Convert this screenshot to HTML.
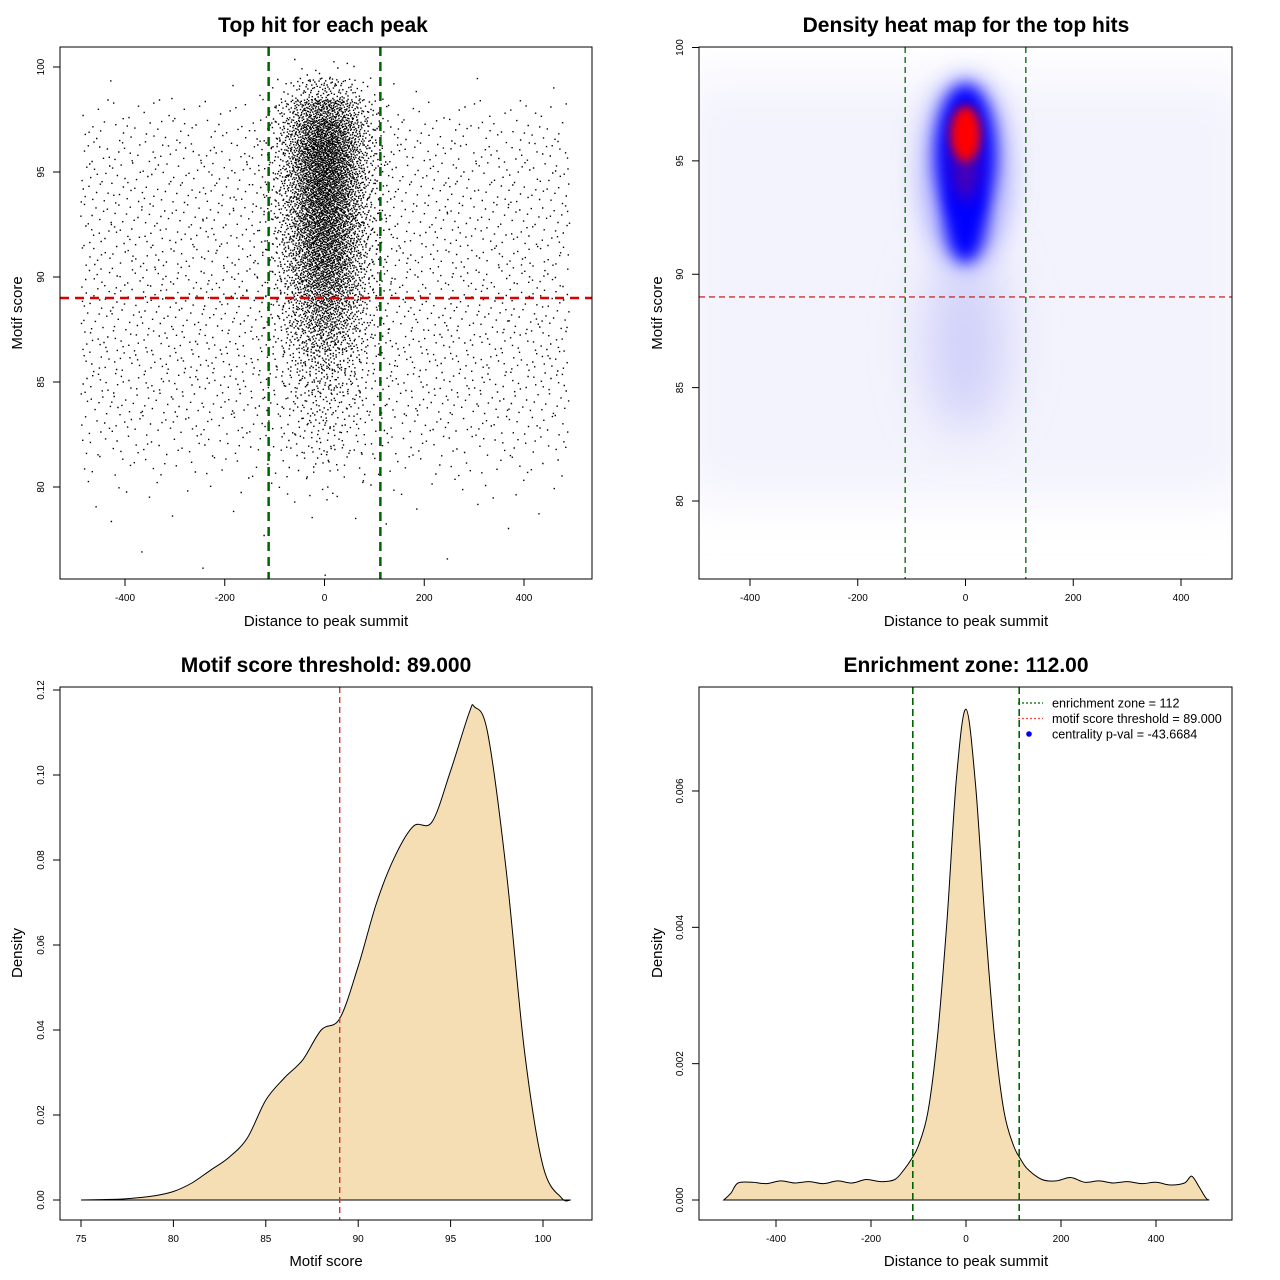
<!DOCTYPE html>
<html><head><meta charset="utf-8">
<style>
html,body{margin:0;padding:0;background:#fff;}
svg{display:block;font-family:"Liberation Sans",Arial,sans-serif;}
</style></head>
<body>
<svg id="chart" width="1280" height="1280" viewBox="0 0 1280 1280" xmlns="http://www.w3.org/2000/svg">
<defs>
<filter id="b14" x="-100%" y="-100%" width="300%" height="300%"><feGaussianBlur stdDeviation="14"/></filter>
<filter id="b8" x="-100%" y="-100%" width="300%" height="300%"><feGaussianBlur stdDeviation="8"/></filter>
<filter id="b5" x="-100%" y="-100%" width="300%" height="300%"><feGaussianBlur stdDeviation="5"/></filter>
<filter id="b25" x="-100%" y="-100%" width="300%" height="300%"><feGaussianBlur stdDeviation="25"/></filter>
<clipPath id="clip2"><rect x="699" y="47" width="533" height="532"/></clipPath>
</defs>
<g id="root"></g>
</svg>
<script>
// ---------- data ----------
// Panel 1: scatter counts per motif score bin (1-unit bins)
const scoreBins = [76,77,78,79,80,81,82,83,84,85,86,87,88,89,90,91,92,93,94,95,96,97,98,99,100];
const backgroundCounts = [2,2,4,8,25,55,90,120,140,155,160,160,155,150,150,148,145,142,140,135,125,100,55,8,0];
const centralCounts = [0,0,0,2,6,12,25,35,45,70,110,170,240,300,380,430,470,500,530,560,570,500,340,110,10];
// Panel 3: motif score density
const scoreX = [75,77,78,79,80,81,82,83,84,85,86,87,88,89,90,91,92,93,94,95,96,96.3,97,98,99,100,101,101.5];
const scoreDensity = [0,0.0002,0.0005,0.001,0.002,0.004,0.007,0.010,0.0146,0.0235,0.0287,0.033,0.040,0.0427,0.055,0.070,0.081,0.088,0.089,0.101,0.1146,0.116,0.110,0.078,0.035,0.008,0.0005,0];
// Panel 4: distance density
const distX = [-510,-495,-480,-450,-420,-390,-360,-330,-300,-270,-240,-210,-180,-150,-130,-115,-100,-80,-60,-40,-20,0,20,40,60,80,100,115,130,160,190,220,250,280,310,340,370,400,430,460,475,490,505,512];
const distDensity = [0,0.0001,0.00025,0.00026,0.00024,0.00028,0.00025,0.00027,0.00024,0.00028,0.00025,0.0003,0.00027,0.0003,0.00045,0.0006,0.0008,0.0013,0.0024,0.0041,0.0062,0.0072,0.0061,0.0041,0.0024,0.0013,0.0008,0.0006,0.00045,0.0003,0.00028,0.00033,0.00026,0.00028,0.00025,0.00027,0.00024,0.00026,0.00022,0.00025,0.00035,0.0002,0.00003,0];
// tick labels
const p1XTicks = [-400,-200,0,200,400];
const p1YTicks = [80,85,90,95,100];
const p3XTicks = [75,80,85,90,95,100];
const p3YTicks = ["0.00","0.02","0.04","0.06","0.08","0.10","0.12"];
const p4YTicks = ["0.000","0.002","0.004","0.006"];
const scoreThreshold = 89;
const enrichZone = 112;

// ---------- helpers ----------
const NS="http://www.w3.org/2000/svg";
const root=document.getElementById('root');
function el(tag,attrs,parent,text){const e=document.createElementNS(NS,tag);for(const k in attrs)e.setAttribute(k,attrs[k]);if(text!==undefined)e.textContent=text;(parent||root).appendChild(e);return e;}
function lin(d0,d1,r0,r1){return v=>r0+(v-d0)*(r1-r0)/(d1-d0);}

function frame(x0,y0,x1,y1,name){
  const r=el('rect',{x:x0,y:y0,width:x1-x0,height:y1-y0,fill:'none',stroke:'#000','stroke-width':1});
  
  
}
function xAxis(ticks,sx,yb,name,lbls){
  const g=el('g',{});
  
  
  el('line',{x1:sx(ticks[0]),x2:sx(ticks[ticks.length-1]),y1:yb,y2:yb,stroke:'#000'},g);
  ticks.forEach((t,i)=>{
    const x=sx(t);
    el('line',{x1:x,x2:x,y1:yb,y2:yb+7,stroke:'#000'},g);
    const tx=el('text',{x:x,y:yb+22,'font-size':10,'text-anchor':'middle'},g,lbls?lbls[i]:String(t));
    
    
  });
}
function yAxis(ticks,sy,xb,name,lbls){
  const g=el('g',{});
  
  
  el('line',{x1:xb,x2:xb,y1:sy(ticks[0]),y2:sy(ticks[ticks.length-1]),stroke:'#000'},g);
  ticks.forEach((t,i)=>{
    const y=sy(t);
    el('line',{x1:xb-7,x2:xb,y1:y,y2:y,stroke:'#000'},g);
    const tx=el('text',{x:xb-16,y:y,'font-size':10,'text-anchor':'middle',transform:`rotate(-90 ${xb-16} ${y})`},g,lbls?lbls[i]:String(t));
    
    
  });
}
function label(x,y,txt,size,bold,rot,name){
  const t=el('text',{x:x,y:y,'font-size':size,'text-anchor':'middle','font-weight':bold?'bold':'normal'},root,txt);
  if(rot)t.setAttribute('transform',`rotate(-90 ${x} ${y})`);
  
  
}
function halton(i,b){let f=1,r=0;while(i>0){f/=b;r+=f*(i%b);i=Math.floor(i/b);}return r;}
function invNorm(p){p=Math.min(Math.max(p,1e-4),1-1e-4);const t=Math.sqrt(-2*Math.log(p<0.5?p:1-p));let z=t-(2.515517+0.802853*t+0.010328*t*t)/(1+1.432788*t+0.189269*t*t+0.001308*t*t*t);return p<0.5?-z:z;}

// ---------- Panel 1 ----------
{
  const sx=lin(-400,400,125,524), sy=lin(80,100,487,67);
  label(323,32,'Top hit for each peak',21,true,false,'scatter-title');
  let d='',k=1;
  scoreBins.forEach((s,i)=>{
    for(let j=0;j<backgroundCounts[i];j++,k++){
      const x=-490+980*halton(k,2), y=s-0.5+halton(k,3);
      d+=`M${sx(x).toFixed(1)} ${sy(y).toFixed(1)}h1.4v1.4h-1.4z`;
    }
    for(let j=0;j<centralCounts[i];j++,k++){
      const x=45*invNorm(halton(k,2)), y=s-0.5+halton(k,3);
      if(Math.abs(x)>200)continue;
      d+=`M${sx(x).toFixed(1)} ${sy(y).toFixed(1)}h1.4v1.4h-1.4z`;
    }
  });
  const pts=el('path',{d:d,fill:'#000'});
  
  
  [-enrichZone,enrichZone].forEach(z=>{
    const l=el('line',{x1:sx(z),x2:sx(z),y1:47,y2:579,stroke:'#006400','stroke-width':2.5,'stroke-dasharray':'9 6'});
    
    
  });
  const h=el('line',{x1:60,x2:592,y1:sy(scoreThreshold),y2:sy(scoreThreshold),stroke:'#dd0000','stroke-width':2.5,'stroke-dasharray':'9 6'});
  
  
  frame(60,47,592,579,'scatter-plot-area');
  xAxis(p1XTicks,sx,579,'scatter-x-axis');
  yAxis(p1YTicks,sy,60,'scatter-y-axis');
  label(326,626,'Distance to peak summit',15,false,false,'scatter-x-title');
  label(22,313,'Motif score',15,false,true,'scatter-y-title');
}

// ---------- Panel 2 ----------
{
  const sx=lin(-400,400,750,1181), sy=lin(80,100,501,47.5);
  label(966,32,'Density heat map for the top hits',21,true,false,'heatmap-title');
  const g=el('g',{'clip-path':'url(#clip2)'});
  
  
  el('rect',{x:680,y:80,width:570,height:420,fill:'#f3f3fd',filter:'url(#b25)'},g);
  el('ellipse',{cx:sx(0),cy:sy(87),rx:40,ry:90,fill:'#d0d0fa',filter:'url(#b25)'},g);
  el('ellipse',{cx:sx(0),cy:sy(94.5),rx:42,ry:95,fill:'#9a9aff',filter:'url(#b14)'},g);
  el('ellipse',{cx:sx(0),cy:sy(95.3),rx:30,ry:70,fill:'#0000ff',filter:'url(#b8)'},g);
  el('ellipse',{cx:sx(0),cy:sy(92.5),rx:20,ry:45,fill:'#0000ff',filter:'url(#b8)'},g);
  el('ellipse',{cx:sx(0),cy:sy(95),rx:13,ry:40,fill:'#800080',filter:'url(#b8)',opacity:0.6},g);
  el('ellipse',{cx:sx(0),cy:sy(96.2),rx:15,ry:28,fill:'#ff0000',filter:'url(#b5)'},g);
  [-enrichZone,enrichZone].forEach(z=>{
    const l=el('line',{x1:sx(z),x2:sx(z),y1:47,y2:579,stroke:'#006400','stroke-width':1.3,'stroke-dasharray':'6 4'});
    
    
  });
  const h=el('line',{x1:699,x2:1232,y1:sy(scoreThreshold),y2:sy(scoreThreshold),stroke:'#cc3333','stroke-width':1.3,'stroke-dasharray':'6 4'});
  
  
  frame(699,47,1232,579,'heatmap-plot-area');
  xAxis([-400,-200,0,200,400],sx,579,'heatmap-x-axis');
  yAxis([80,85,90,95,100],sy,699,'heatmap-y-axis');
  label(966,626,'Distance to peak summit',15,false,false,'heatmap-x-title');
  label(662,313,'Motif score',15,false,true,'heatmap-y-title');
}

// ---------- Panel 3 ----------
{
  const sx=lin(75,100,81,543), sy=lin(0,0.12,1200,690);
  label(326,672,'Motif score threshold: 89.000',21,true,false,'score-density-title');
  let d=`M${sx(scoreX[0])} ${sy(0)}`;
  const pts=scoreX.map((x,i)=>[sx(x),sy(scoreDensity[i])]);
  for(let i=0;i<pts.length-1;i++){
    const p0=pts[Math.max(i-1,0)],p1=pts[i],p2=pts[i+1],p3=pts[Math.min(i+2,pts.length-1)];
    d+=(i===0?`L${p1[0]} ${p1[1]}`:'')+`C${(p1[0]+(p2[0]-p0[0])/6).toFixed(1)} ${(p1[1]+(p2[1]-p0[1])/6).toFixed(1)} ${(p2[0]-(p3[0]-p1[0])/6).toFixed(1)} ${(p2[1]-(p3[1]-p1[1])/6).toFixed(1)} ${p2[0].toFixed(1)} ${p2[1].toFixed(1)}`;
  }
  const a=el('path',{d:d+'Z',fill:'#f5deb3',stroke:'#000','stroke-width':1});
  
  
  const v=el('line',{x1:sx(scoreThreshold),x2:sx(scoreThreshold),y1:687,y2:1220,stroke:'#dd2222','stroke-width':1.3,'stroke-dasharray':'6 4'});
  
  
  frame(60,687,592,1220,'score-density-plot-area');
  xAxis(p3XTicks,sx,1220,'score-density-x-axis');
  yAxis(p3YTicks.map(Number),sy,60,'score-density-y-axis',p3YTicks);
  label(326,1266,'Motif score',15,false,false,'score-density-x-title');
  label(22,953,'Density',15,false,true,'score-density-y-title');
}

// ---------- Panel 4 ----------
{
  const sx=lin(-400,400,776,1156), sy=lin(0,0.006,1200,791);
  label(966,672,'Enrichment zone: 112.00',21,true,false,'distance-density-title');
  const pts=distX.map((x,i)=>[sx(x),sy(distDensity[i])]);
  let d=`M${pts[0][0]} ${pts[0][1]}`;
  for(let i=0;i<pts.length-1;i++){
    const p0=pts[Math.max(i-1,0)],p1=pts[i],p2=pts[i+1],p3=pts[Math.min(i+2,pts.length-1)];
    d+=`C${(p1[0]+(p2[0]-p0[0])/6).toFixed(1)} ${(p1[1]+(p2[1]-p0[1])/6).toFixed(1)} ${(p2[0]-(p3[0]-p1[0])/6).toFixed(1)} ${(p2[1]-(p3[1]-p1[1])/6).toFixed(1)} ${p2[0].toFixed(1)} ${p2[1].toFixed(1)}`;
  }
  const a=el('path',{d:d+'Z',fill:'#f5deb3',stroke:'#000','stroke-width':1});
  
  
  [-enrichZone,enrichZone].forEach(z=>{
    const l=el('line',{x1:sx(z),x2:sx(z),y1:687,y2:1220,stroke:'#006400','stroke-width':1.6,'stroke-dasharray':'7 4'});
    
    
  });
  frame(699,687,1232,1220,'distance-density-plot-area');
  xAxis([-400,-200,0,200,400],sx,1220,'distance-density-x-axis');
  yAxis(p4YTicks.map(Number),sy,699,'distance-density-y-axis',p4YTicks);
  label(966,1266,'Distance to peak summit',15,false,false,'distance-density-x-title');
  label(662,953,'Density',15,false,true,'distance-density-y-title');
  // legend
  const lg=el('g',{});
  
  
  const items=[['enrichment zone = 112','#006400','line'],['motif score threshold = 89.000','#ff4444','line'],['centrality p-val = -43.6684','#0000ff','dot']];
  items.forEach((it,i)=>{
    const y=703+i*15.5;
    const e=el('g',{},lg);
    
    
    if(it[2]==='line')el('line',{x1:1018,x2:1043,y1:y,y2:y,stroke:it[1],'stroke-width':1.2,'stroke-dasharray':'2 2'},e);
    else el('circle',{cx:1029,cy:y,r:2.8,fill:it[1]},e);
    el('text',{x:1052,y:y+4.5,'font-size':12.6},e,it[0]);
  });
}
</script>
</body></html>
